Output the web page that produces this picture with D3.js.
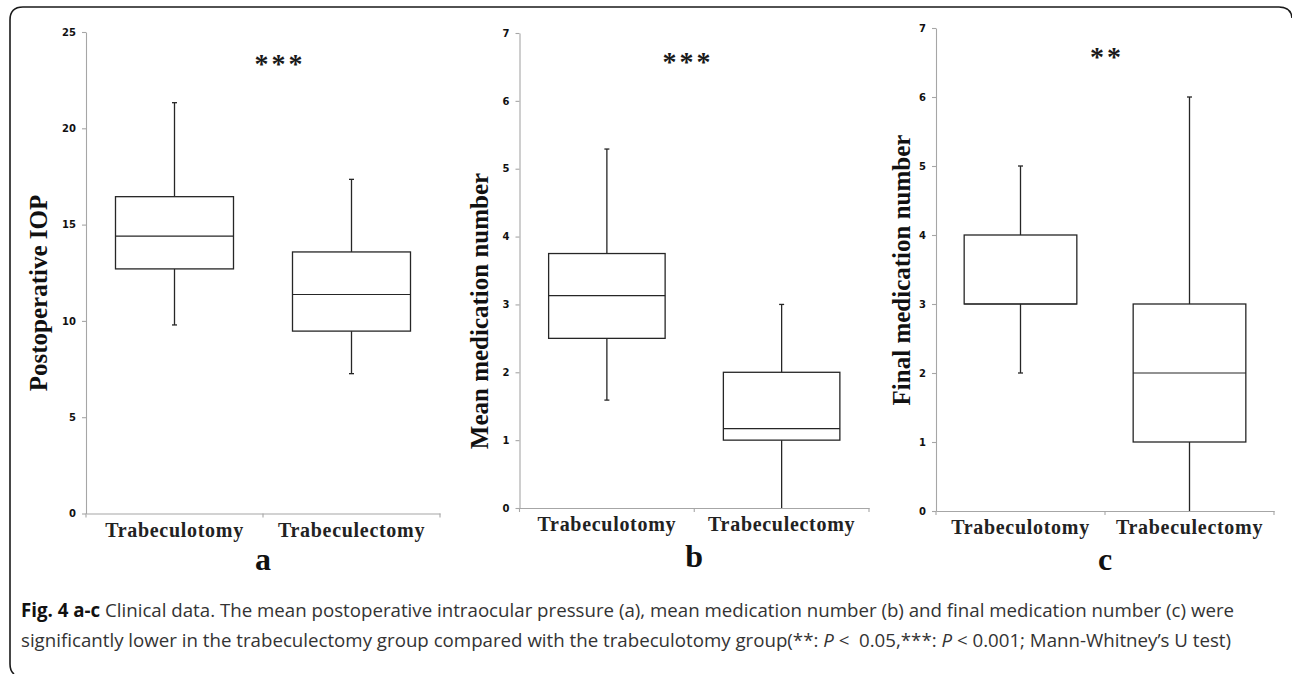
<!DOCTYPE html>
<html><head><meta charset="utf-8">
<script src="https://cdn.jsdelivr.net/npm/d3@7"></script>
<style>
html,body{margin:0;padding:0;background:#fff;}
svg{display:block;}
</style></head>
<body>
<svg id="chart" width="1292" height="674"></svg>
<script>
// ---- data ----
const categories = ["Trabeculotomy", "Trabeculectomy"];
// [whiskerLow, q1, median, q3, whiskerHigh]
const iopStats = [[9.79, 12.7, 14.4, 16.45, 21.33], [7.26, 9.47, 11.37, 13.58, 17.35]];
const meanMedStats = [[1.59, 2.5, 3.13, 3.75, 5.29], [0, 1.0, 1.17, 2.0, 3.0]];
const finalMedStats = [[2, 3, 3, 4, 5], [0, 1, 2, 3, 6]];
const iopTicks = [0, 5, 10, 15, 20, 25];
const medTicks = [0, 1, 2, 3, 4, 5, 6, 7];
const yTitles = ["Postoperative IOP", "Mean medication number", "Final medication number"];
const panelLetters = ["a", "b", "c"];
const significance = ["***", "***", "**"];

// ---- layout ----
const panels = [
  {stats: iopStats, ticks: iopTicks, max: 25, x0: 86, x1: 440, yTop: 32, yBot: 513.5, titleX: 47, titleY: 293, starX: 280, starY: 73, letterY: 570},
  {stats: meanMedStats, ticks: medTicks, max: 7, x0: 519.5, x1: 869, yTop: 33, yBot: 508, titleX: 488, titleY: 311, starX: 688, starY: 71, letterY: 567},
  {stats: finalMedStats, ticks: medTicks, max: 7, x0: 936, x1: 1274, yTop: 28, yBot: 511, titleX: 910, titleY: 270, starX: 1107, starY: 66, letterY: 570}
];

const svg = d3.select("#chart");
const serif = "'Liberation Serif','Times New Roman',serif";

// frame
svg.append("path")
  .attr("d", "M14,674 Q10,671 10,664 L10,20 Q10,7 23,7 L1279,7 Q1291,7 1292,18")
  .attr("fill", "none").attr("stroke", "#1a1a1a").attr("stroke-width", 1.6);

panels.forEach((p, i) => {
  const g = svg.append("g");
  const y = d3.scaleLinear().domain([0, p.max]).range([p.yBot, p.yTop]);
  const x = d3.scaleBand().domain(categories).range([p.x0, p.x1]).paddingInner(0).paddingOuter(0);

  // y axis
  const ya = g.append("g").attr("transform", `translate(${p.x0},0)`)
    .call(d3.axisLeft(y).tickValues(p.ticks).tickSize(4).tickSizeOuter(0).tickPadding(6).tickFormat(d3.format("d")));
  ya.selectAll("path,line").attr("stroke", "#a6a6a6").attr("stroke-width", 1.1);
  ya.selectAll("text").attr("font-family", "'DejaVu Sans',Verdana,sans-serif").attr("font-weight", "bold")
    .attr("font-size", 10).attr("fill", "#111");

  // x axis
  const xa = g.append("g").attr("transform", `translate(0,${p.yBot})`)
    .call(d3.axisBottom(x).tickSize(0).tickSizeOuter(0).tickPadding(16));
  xa.select("path").attr("stroke", "#a6a6a6").attr("stroke-width", 1.1);
  xa.selectAll("text").attr("font-family", serif).attr("font-weight", "bold")
    .attr("font-size", 20).attr("letter-spacing", 0.7).attr("fill", "#222").attr("dy", "0.35em");
  const bounds = categories.map(c => x(c)).concat([x(categories[categories.length - 1]) + x.bandwidth()]);
  xa.selectAll(".btick").data(bounds).enter().append("line").attr("class", "btick")
    .attr("x1", d => d).attr("x2", d => d).attr("y1", 0).attr("y2", 4)
    .attr("stroke", "#a6a6a6").attr("stroke-width", 1.1);

  // boxes
  const bw = x.bandwidth() * 2 / 3;
  categories.forEach((c, j) => {
    const s = p.stats[j];
    const cx = x(c) + x.bandwidth() / 2;
    const col = "#262626";
    g.append("line").attr("x1", cx).attr("x2", cx).attr("y1", y(s[0])).attr("y2", y(s[1]))
      .attr("stroke", col).attr("stroke-width", 1.3);
    g.append("line").attr("x1", cx).attr("x2", cx).attr("y1", y(s[3])).attr("y2", y(s[4]))
      .attr("stroke", col).attr("stroke-width", 1.3);
    [s[0], s[4]].forEach(v => {
      if (v > 0) g.append("line").attr("x1", cx - 2.5).attr("x2", cx + 2.5).attr("y1", y(v)).attr("y2", y(v))
        .attr("stroke", col).attr("stroke-width", 1.3);
    });
    g.append("rect").attr("x", cx - bw / 2).attr("y", y(s[3])).attr("width", bw).attr("height", y(s[1]) - y(s[3]))
      .attr("fill", "#fff").attr("stroke", col).attr("stroke-width", 1.3);
    g.append("line").attr("x1", cx - bw / 2).attr("x2", cx + bw / 2).attr("y1", y(s[2])).attr("y2", y(s[2]))
      .attr("stroke", col).attr("stroke-width", 1.2);
  });

  // y title
  g.append("text").attr("transform", `translate(${p.titleX},${p.titleY}) rotate(-90)`)
    .attr("text-anchor", "middle").attr("font-family", serif).attr("font-weight", "bold")
    .attr("font-size", 25).attr("fill", "#111").text(yTitles[i]);

  // significance
  g.append("text").attr("x", p.starX).attr("y", p.starY).attr("text-anchor", "middle")
    .attr("font-family", serif).attr("font-weight", "bold").attr("font-size", 28)
    .attr("letter-spacing", 3).attr("fill", "#1a1a1a").text(significance[i]);

  // panel letter
  g.append("text").attr("x", (p.x0 + p.x1) / 2).attr("y", p.letterY).attr("text-anchor", "middle")
    .attr("font-family", serif).attr("font-weight", "bold").attr("font-size", 32)
    .attr("fill", "#111").text(panelLetters[i]);
});

// caption
const capFont = "'Open Sans','Noto Sans',sans-serif";
const l1 = svg.append("text").attr("x", 21).attr("y", 617).attr("font-family", capFont).attr("font-size", 16).attr("fill", "#333");
l1.append("tspan").attr("font-weight", "bold").attr("fill", "#111").text("Fig. 4 a-c");
l1.append("tspan").text(" Clinical data. The mean postoperative intraocular pressure (a), mean medication number (b) and final medication number (c) were");
const l2 = svg.append("text").attr("x", 21).attr("y", 647).attr("font-family", capFont).attr("font-size", 16).attr("fill", "#333")
  .style("white-space", "pre");
l2.append("tspan").text("significantly lower in the trabeculectomy group compared with the trabeculotomy group(**: ");
l2.append("tspan").attr("font-style", "italic").text("P");
l2.append("tspan").text(" <  0.05,***: ");
l2.append("tspan").attr("font-style", "italic").text("P");
l2.append("tspan").text(" < 0.001; Mann-Whitney\u2019s U test)");

// fit caption size so that the first line spans the reference width
const capSize = 16 * 1214 / l1.node().getComputedTextLength();
l1.attr("font-size", capSize);
l2.attr("font-size", capSize);
</script>
</body></html>
